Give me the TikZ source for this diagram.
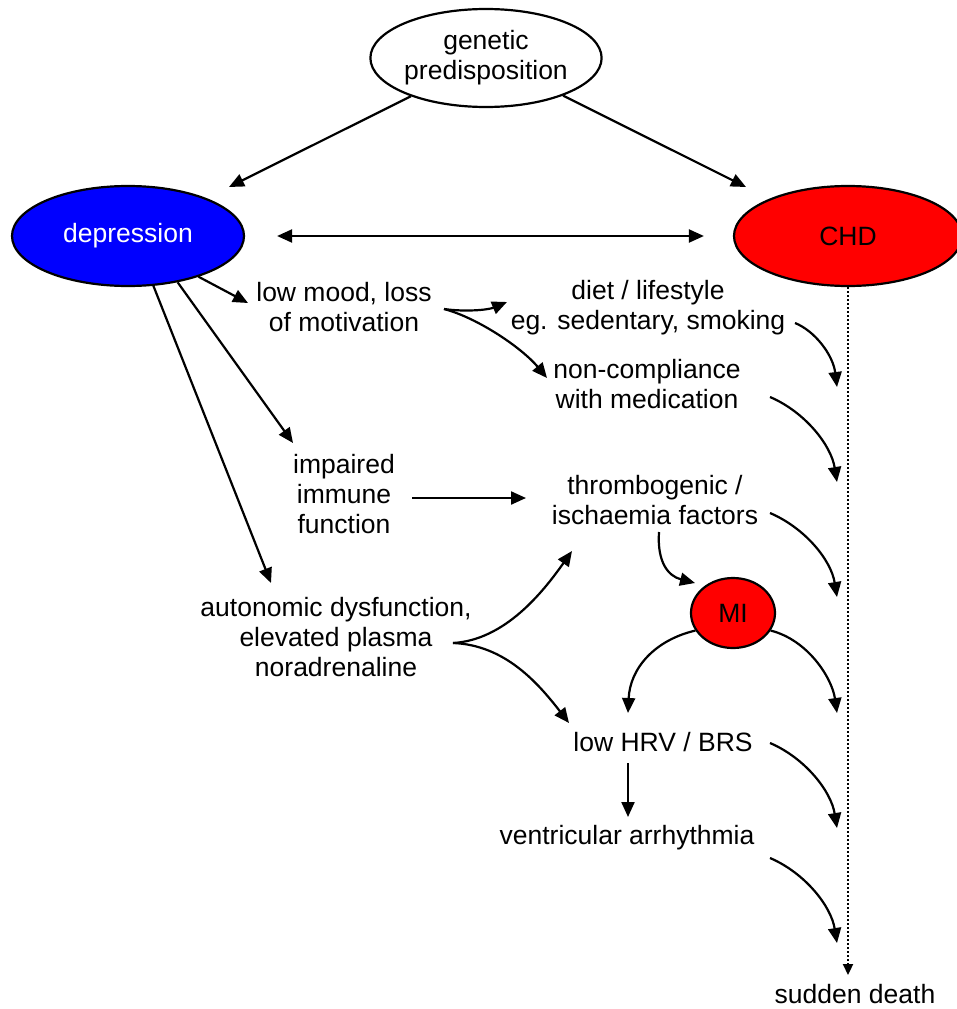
\documentclass[tikz,border=0pt]{standalone}
\usepackage{fontspec}
\setmainfont{Liberation Sans}
\usetikzlibrary{shapes.geometric,arrows.meta}
\begin{document}
\begin{tikzpicture}[x=1pt,y=-1pt,
  every node/.style={font=\fontsize{26.5}{30}\selectfont, align=center, inner sep=0pt},
  oval/.style={ellipse, draw, line width=2.2pt},
  arr/.style={line width=2.2pt, -{Triangle[length=15pt,width=13pt]}},
  dblarr/.style={line width=2.2pt, {Triangle[length=15pt,width=13pt]}-{Triangle[length=15pt,width=13pt]}},
  dotline/.style={line width=2.2pt, dash pattern=on 2pt off 2pt, -{Triangle[length=11pt,width=10pt]}},
  lbl/.style={fill=none}
]
\useasboundingbox (0,0) rectangle (957,1009);

% ellipses
\node[oval, fill=white, minimum width=230, minimum height=98] (gen) at (486,58) {genetic\\predisposition};
\node[oval, fill=blue, text=white, minimum width=232, minimum height=100] (dep) at (128,236) {depression};
\node[oval, fill=red, minimum width=228, minimum height=100] (chd) at (848,236) {CHD};
\node[oval, fill=red, minimum width=84, minimum height=70] (mi) at (733,613) {MI};

% text nodes
\node[lbl] (lowmood) at (344,307) {low mood, loss\\of motivation};
\node[lbl] (diet) at (648,308) {diet / lifestyle\\eg. sedentary, smoking};
\node[lbl] (noncomp) at (647,384) {non-compliance\\with medication};
\node[lbl] (impaired) at (344,494) {impaired\\immune\\function};
\node[lbl] (thromb) at (655,500) {thrombogenic /\\ischaemia factors};
\node[lbl] (auto) at (336,637) {autonomic dysfunction,\\elevated plasma\\noradrenaline};
\node[lbl] (hrv) at (663,742) {low HRV / BRS};
\node[lbl] (vent) at (627,838) {ventricular arrhythmia};
\node[lbl] (sd) at (855,994) {sudden death};

% named coordinates
\coordinate (gd) at (229,187);
\coordinate (gc) at (746,187);
\coordinate (lmin) at (248,303);
\coordinate (impin) at (293,443);
\coordinate (autoin) at (271,583);
\coordinate (impout) at (412,498);
\coordinate (thrin) at (526,498);
\coordinate (lmout) at (444,309);
\coordinate (dietin) at (507,302);
\coordinate (ncin) at (547,378);
\coordinate (throut) at (659,532);
\coordinate (miin) at (695,583);
\coordinate (autoout) at (453,643);
\coordinate (thrin2) at (572,551);
\coordinate (hrvin) at (569,723);
\coordinate (hrvin2) at (628,713);
\coordinate (hrvout) at (628,763);
\coordinate (ventin) at (628,817);
\coordinate (dietout) at (795,323);
\coordinate (ncout) at (770,397);
\coordinate (throut2) at (770,513);
\coordinate (hrvout2) at (770,743);
\coordinate (ventout) at (770,858);
\coordinate (t1) at (837,387);
\coordinate (t2) at (837,482);
\coordinate (t3) at (837,597);
\coordinate (t4) at (837,713);
\coordinate (t5) at (837,828);
\coordinate (t6) at (837,943);
\coordinate (sdin) at (848,975);

% dotted line
\draw[dotline] (chd.south) -- (sdin);

% top arrows
\draw[arr] (gen.207) -- (gd);
\draw[arr] (gen.-26) -- (gc);
\draw[dblarr] ([xshift=32]dep.east) -- ([xshift=-29]chd.west);

% from depression
\draw[arr] (dep.-30) -- (lmin);
\draw[arr] (dep.-43) -- (impin);
\draw[arr] (dep.-63) -- (autoin);

\draw[arr] (impout) -- (thrin);
\draw[arr] (lmout) .. controls (465,312) and (488,310) .. (dietin);
\draw[arr] (lmout) .. controls (478,318) and (522,348) .. (ncin);
\draw[arr] (throut) .. controls (657,562) and (668,576) .. (miin);
\draw[arr] (autoout) .. controls (505,640) and (543,592) .. (thrin2);
\draw[arr] (autoout) .. controls (505,645) and (538,683) .. (hrvin);
\draw[arr] (mi.205) .. controls (655,640) and (630,668) .. (hrvin2);
\draw[arr] (mi.-25) .. controls (808,640) and (832,678) .. (t4);
\draw[arr] (hrvout) -- (ventin);

% to the dotted line
\draw[arr] (dietout) .. controls (815,331) and (833,355) .. (t1);
\draw[arr] (ncout) .. controls (805,412) and (831,445) .. (t2);
\draw[arr] (throut2) .. controls (805,528) and (831,560) .. (t3);
\draw[arr] (hrvout2) .. controls (805,758) and (831,791) .. (t5);
\draw[arr] (ventout) .. controls (805,873) and (831,906) .. (t6);
\end{tikzpicture}
\end{document}
